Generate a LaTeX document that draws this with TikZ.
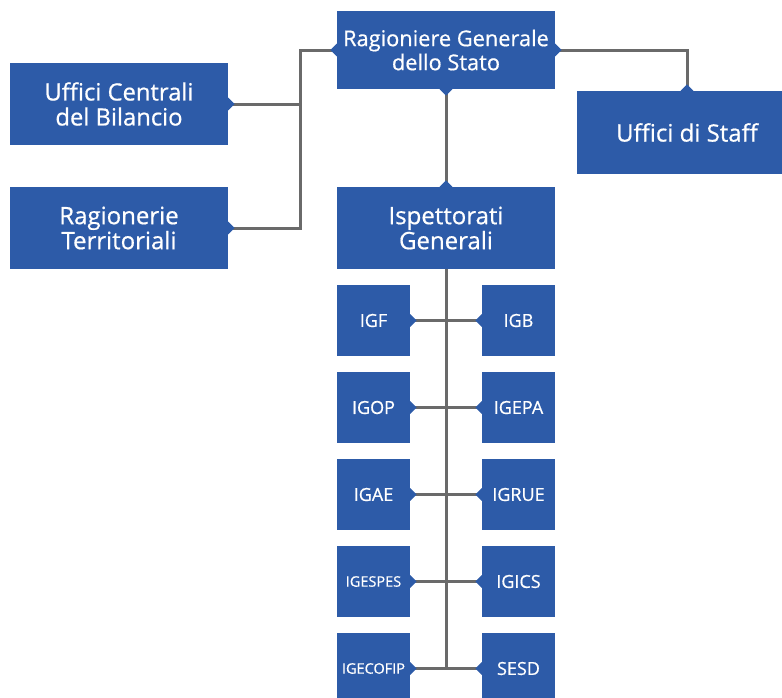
\documentclass[tikz,border=0pt]{standalone}
\usepackage{fontspec}
\setmainfont{Open Sans}[FakeBold=0.6]
\usetikzlibrary{shapes.geometric}
\definecolor{boxblue}{HTML}{2D5BA8}
\definecolor{linegray}{HTML}{6A6A6A}
\tikzset{
  bigbox/.style={fill=boxblue, text=white, align=center, minimum width=218pt, minimum height=82pt, inner sep=0pt, font=\fontsize{24}{25}\selectfont},
  smallbox/.style={fill=boxblue, text=white, minimum width=73pt, minimum height=71pt, inner sep=0pt, font=\fontsize{18}{20}\selectfont},
  link/.style={draw=linegray, line width=3pt},
  tab/.style={diamond, fill=boxblue, inner sep=0pt, minimum size=13pt}
}
\begin{document}
\begin{tikzpicture}[x=1pt, y=-1pt]
\useasboundingbox (0,0) rectangle (782,697);
% top level
\node [bigbox, minimum height=78pt, font=\fontsize{21.8}{24}\selectfont] (rgs) at (446,50) {Ragioniere Generale\\dello Stato};
\node [bigbox, font=\fontsize{23.8}{25}\selectfont] (ucb) at (119,104) {Uffici Centrali\\del Bilancio};
\node [bigbox] (rt) at (119,228) {Ragionerie\\Territoriali};
\node [bigbox, minimum width=220pt, minimum height=83pt] (staff) at (687,132.5) {Uffici di Staff};
\node [bigbox] (isp) at (446,228) {Ispettorati\\Generali};
% ispettorati
\node [smallbox] (igf) at (373.5,320.5) {IGF};
\node [smallbox] (igb) at (518.5,320.5) {IGB};
\node [smallbox] (igop) at (373.5,407.5) {IGOP};
\node [smallbox] (igepa) at (518.5,407.5) {IGEPA};
\node [smallbox] (igae) at (373.5,494.5) {IGAE};
\node [smallbox] (igrue) at (518.5,494.5) {IGRUE};
\node [smallbox, font=\fontsize{14.5}{17}\selectfont] (igespes) at (373.5,581.5) {IGESPES};
\node [smallbox] (igics) at (518.5,581.5) {IGICS};
\node [smallbox, font=\fontsize{14.5}{17}\selectfont] (igecofip) at (373.5,668.5) {IGECOFIP};
\node [smallbox] (sesd) at (518.5,668.5) {SESD};
% connectors
\coordinate (join) at (300,50);
\coordinate (spine) at (446,668.5);
\draw [link] (ucb.east) -| (join) -- (rgs.west);
\draw [link] (rt.east) -| (join);
\draw [link] (rgs.east) -| (staff.north);
\draw [link] (rgs.south) -- (isp.north);
\draw [link] (isp.south) -- (spine);
\draw [link] (igf.east) -- (igb.west);
\draw [link] (igop.east) -- (igepa.west);
\draw [link] (igae.east) -- (igrue.west);
\draw [link] (igespes.east) -- (igics.west);
\draw [link] (igecofip.east) -- (sesd.west);
% tabs
\node [tab] (t1) at (rgs.west) {};
\node [tab] (t2) at (rgs.east) {};
\node [tab] (t3) at (rgs.south) {};
\node [tab] (t4) at (ucb.east) {};
\node [tab] (t5) at (rt.east) {};
\node [tab] (t6) at (staff.north) {};
\node [tab] (t7) at (isp.north) {};
\node [tab] (t8) at (igf.east) {};
\node [tab] (t9) at (igb.west) {};
\node [tab] (t10) at (igop.east) {};
\node [tab] (t11) at (igepa.west) {};
\node [tab] (t12) at (igae.east) {};
\node [tab] (t13) at (igrue.west) {};
\node [tab] (t14) at (igespes.east) {};
\node [tab] (t15) at (igics.west) {};
\node [tab] (t16) at (igecofip.east) {};
\node [tab] (t17) at (sesd.west) {};
\end{tikzpicture}
\end{document}
